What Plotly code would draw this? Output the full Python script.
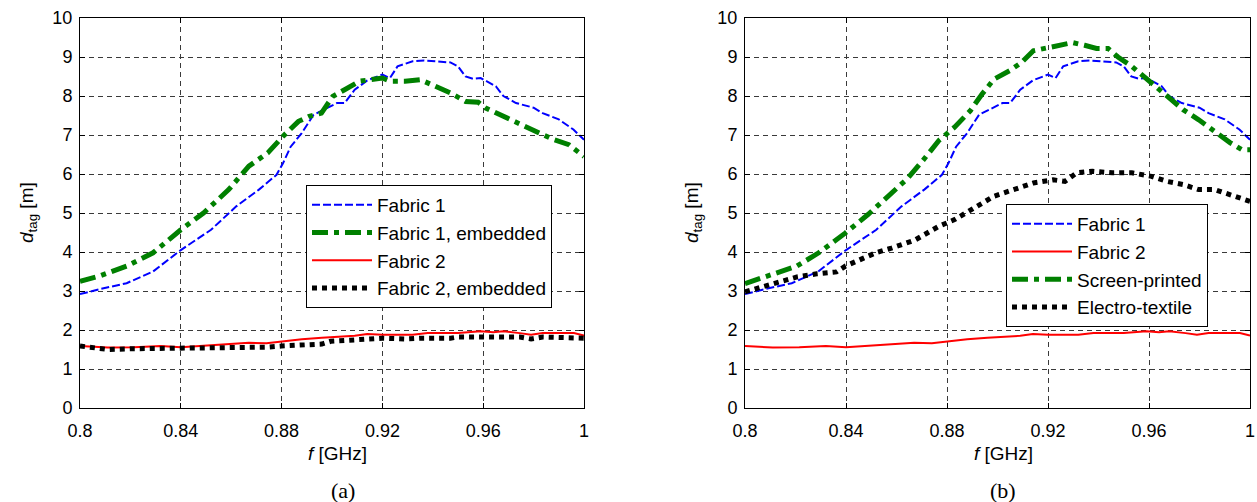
import plotly.graph_objects as go

# ---- data: read distance d_tag [m] versus frequency f [GHz] ----
f_fabric1 = [0.800, 0.808, 0.8185, 0.829, 0.840, 0.852, 0.862, 0.871, 0.878, 0.8806,
             0.8836, 0.888, 0.8927, 0.897, 0.902, 0.905, 0.909, 0.914, 0.920, 0.923,
             0.926, 0.932, 0.9366, 0.941, 0.947, 0.950, 0.953, 0.956, 0.959, 0.965,
             0.968, 0.973, 0.980, 0.9836, 0.990, 0.9958, 1.000]
d_fabric1 = [2.92, 3.05, 3.20, 3.50, 4.05, 4.57, 5.17, 5.60, 5.98, 6.28,
             6.70, 7.05, 7.52, 7.65, 7.82, 7.82, 8.16, 8.40, 8.55, 8.46,
             8.76, 8.89, 8.91, 8.89, 8.86, 8.76, 8.50, 8.44, 8.46, 8.25,
             8.00, 7.82, 7.70, 7.56, 7.40, 7.14, 6.88]

f_fabric1_emb = [0.800, 0.808, 0.8185, 0.829, 0.840, 0.849, 0.859, 0.867, 0.8745, 0.8806,
                 0.8867, 0.891, 0.8958, 0.9003, 0.905, 0.911, 0.9155, 0.920, 0.923, 0.929,
                 0.935, 0.941, 0.947, 0.953, 0.958, 0.961, 0.968, 0.9745, 0.980, 0.988,
                 0.994, 0.9977, 1.000]
d_fabric1_emb = [3.25, 3.39, 3.64, 3.98, 4.57, 5.00, 5.60, 6.20, 6.54, 6.97,
                 7.35, 7.48, 7.56, 7.99, 8.16, 8.38, 8.42, 8.46, 8.38, 8.38,
                 8.42, 8.25, 8.08, 7.86, 7.84, 7.69, 7.48, 7.26, 7.09, 6.88,
                 6.75, 6.58, 6.45]

f_fabric2 = [0.800, 0.811, 0.8215, 0.832, 0.840, 0.850, 0.859, 0.867, 0.874, 0.880,
             0.888, 0.896, 0.902, 0.909, 0.914, 0.920, 0.932, 0.938, 0.950, 0.959,
             0.964, 0.968, 0.9745, 0.979, 0.9836, 0.996, 1.000]
d_fabric2 = [1.59, 1.55, 1.56, 1.59, 1.56, 1.60, 1.62, 1.67, 1.66, 1.71,
             1.76, 1.80, 1.82, 1.85, 1.90, 1.88, 1.88, 1.92, 1.92, 1.97,
             1.94, 1.97, 1.92, 1.88, 1.92, 1.92, 1.86]

f_fabric2_emb = [0.800, 0.811, 0.8215, 0.832, 0.840, 0.850, 0.859, 0.867, 0.874, 0.880,
                 0.888, 0.896, 0.8995, 0.904, 0.911, 0.9155, 0.920, 0.929, 0.935, 0.947,
                 0.950, 0.959, 0.9745, 0.979, 0.9836, 1.000]
d_fabric2_emb = [1.59, 1.50, 1.52, 1.53, 1.51, 1.53, 1.56, 1.56, 1.56, 1.59,
                 1.63, 1.64, 1.71, 1.73, 1.77, 1.79, 1.79, 1.77, 1.79, 1.79,
                 1.82, 1.82, 1.82, 1.77, 1.82, 1.79]

f_screen = [0.800, 0.8097, 0.8206, 0.8292, 0.8398, 0.8487, 0.8580, 0.8643, 0.8705, 0.8768,
            0.8830, 0.8861, 0.8892, 0.8939, 0.8986, 0.9048, 0.9095, 0.9142, 0.9200, 0.9251,
            0.9298, 0.9345, 0.9392, 0.9438, 0.9477, 0.9532, 0.9579, 0.9626, 0.9688, 0.9735,
            0.9797, 0.9860, 0.9922, 0.9969, 1.000]
d_screen = [3.19, 3.39, 3.64, 3.98, 4.49, 4.96, 5.50, 5.88, 6.35, 6.86,
            7.20, 7.41, 7.62, 8.05, 8.43, 8.65, 8.86, 9.16, 9.25, 9.30,
            9.37, 9.30, 9.22, 9.22, 9.00, 8.76, 8.50, 8.25, 7.90, 7.65,
            7.39, 7.09, 6.80, 6.62, 6.62]

f_electro = [0.800, 0.8066, 0.8128, 0.8206, 0.8284, 0.8362, 0.8398, 0.8456, 0.8518, 0.8580,
             0.8674, 0.8768, 0.8830, 0.8908, 0.8986, 0.9064, 0.9142, 0.9220, 0.9267, 0.9314,
             0.9376, 0.9454, 0.9532, 0.9610, 0.9672, 0.9735, 0.9797, 0.9860, 0.9922, 0.9984,
             1.000]
d_electro = [2.98, 3.10, 3.23, 3.36, 3.44, 3.49, 3.64, 3.81, 3.98, 4.10,
             4.31, 4.66, 4.83, 5.13, 5.43, 5.60, 5.77, 5.85, 5.81, 6.03,
             6.07, 6.03, 6.03, 5.94, 5.81, 5.73, 5.60, 5.60, 5.47, 5.34,
             5.30]

x_ticks = [0.80, 0.84, 0.88, 0.92, 0.96, 1.00]
x_tick_labels = ["0.8", "0.84", "0.88", "0.92", "0.96", "1"]
y_ticks = list(range(0, 11))

# ---- styles ----
SANS = "Liberation Sans, Arial, Helvetica, sans-serif"
SERIF = "Liberation Serif, Times New Roman, serif"
BLUE_DASH = dict(color="#0000ff", width=2, dash="8px,3px")
RED_SOLID = dict(color="#ff0000", width=2)
GREEN_DASHDOT = dict(color="#008000", width=5, dash="16px,6px,5px,6px")
BLACK_DOT = dict(color="#000000", width=5, dash="5px,5px")

W, H = 1257, 502


def px_x(x):
    return x / W


def px_y(y):
    return 1 - y / H


fig = go.Figure()

# panel (a)
fig.add_trace(go.Scatter(x=f_fabric1, y=d_fabric1, mode="lines", name="Fabric 1",
                         line=BLUE_DASH, xaxis="x", yaxis="y", legend="legend"))
fig.add_trace(go.Scatter(x=f_fabric1_emb, y=d_fabric1_emb, mode="lines", name="Fabric 1, embedded",
                         line=GREEN_DASHDOT, xaxis="x", yaxis="y", legend="legend"))
fig.add_trace(go.Scatter(x=f_fabric2, y=d_fabric2, mode="lines", name="Fabric 2",
                         line=RED_SOLID, xaxis="x", yaxis="y", legend="legend"))
fig.add_trace(go.Scatter(x=f_fabric2_emb, y=d_fabric2_emb, mode="lines", name="Fabric 2, embedded",
                         line=BLACK_DOT, xaxis="x", yaxis="y", legend="legend"))

# panel (b)
fig.add_trace(go.Scatter(x=f_fabric1, y=d_fabric1, mode="lines", name="Fabric 1",
                         line=BLUE_DASH, xaxis="x2", yaxis="y2", legend="legend2"))
fig.add_trace(go.Scatter(x=f_fabric2, y=d_fabric2, mode="lines", name="Fabric 2",
                         line=RED_SOLID, xaxis="x2", yaxis="y2", legend="legend2"))
fig.add_trace(go.Scatter(x=f_screen, y=d_screen, mode="lines", name="Screen-printed",
                         line=GREEN_DASHDOT, xaxis="x2", yaxis="y2", legend="legend2"))
fig.add_trace(go.Scatter(x=f_electro, y=d_electro, mode="lines", name="Electro-textile",
                         line=BLACK_DOT, xaxis="x2", yaxis="y2", legend="legend2"))

y_dom = [px_y(408), px_y(18)]

xaxis_common = dict(
    range=[0.8, 1.0], tickvals=x_ticks, ticktext=x_tick_labels,
    showline=True, linecolor="black", linewidth=1, mirror="ticks",
    ticks="inside", ticklen=5, tickcolor="black",
    showgrid=True, gridcolor="#3a3a3a", gridwidth=1, griddash="5px,4px",
    zeroline=False, tickfont=dict(family=SANS, size=18, color="black"),
    ticklabelstandoff=6, fixedrange=True, automargin=False,
)
yaxis_common = dict(
    range=[0, 10], tickvals=y_ticks,
    showline=True, linecolor="black", linewidth=1, mirror="ticks",
    ticks="inside", ticklen=5, tickcolor="black",
    showgrid=True, gridcolor="#3a3a3a", gridwidth=1, griddash="5px,4px",
    zeroline=False, tickfont=dict(family=SANS, size=18, color="black"),
    ticklabelstandoff=3, fixedrange=True, automargin=False,
)

legend_common = dict(
    xanchor="left", yanchor="top", bgcolor="white",
    bordercolor="black", borderwidth=1,
    font=dict(family=SANS, size=19, color="black"),
    itemwidth=60, tracegroupgap=0,
)

fig.update_layout(
    width=W, height=H,
    margin=dict(l=0, r=0, t=0, b=0, pad=0, autoexpand=False),
    paper_bgcolor="white", plot_bgcolor="white",
    xaxis=dict(domain=[px_x(80), px_x(584)], anchor="y", **xaxis_common),
    yaxis=dict(domain=y_dom, anchor="x", **yaxis_common),
    xaxis2=dict(domain=[px_x(745), px_x(1250)], anchor="y2", **xaxis_common),
    yaxis2=dict(domain=y_dom, anchor="x2", **yaxis_common),
    legend=dict(x=px_x(306), y=px_y(185), **legend_common),
    legend2=dict(x=px_x(1006), y=px_y(204), **legend_common),
)

# axis titles and panel captions
annotations = []
for cx in (28, 693):
    annotations.append(dict(
        text="<i>d</i><sub>tag</sub> [m]", x=px_x(cx), y=px_y(213),
        xref="paper", yref="paper", showarrow=False, textangle=-90,
        xanchor="center", yanchor="middle",
        font=dict(family=SANS, size=19, color="black")))
for cx in (338, 1003):
    annotations.append(dict(
        text="<i>f</i> [GHz]", x=px_x(cx), y=px_y(453),
        xref="paper", yref="paper", showarrow=False,
        xanchor="center", yanchor="middle",
        font=dict(family=SANS, size=19, color="black")))
for cx, label in ((343, "(a)"), (1003, "(b)")):
    annotations.append(dict(
        text=label, x=px_x(cx), y=px_y(490),
        xref="paper", yref="paper", showarrow=False,
        xanchor="center", yanchor="middle",
        font=dict(family=SERIF, size=22, color="black")))
fig.update_layout(annotations=annotations)

fig.write_html("out.html", config={"responsive": False, "displayModeBar": False})
